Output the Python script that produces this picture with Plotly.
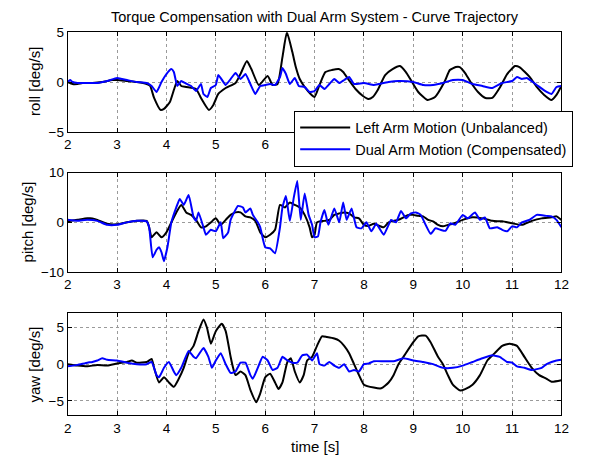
import plotly.graph_objects as go

# ---------------- data ----------------
roll_left_t = [2.0, 2.1, 2.2, 2.3, 2.5, 2.7, 2.9, 3.0, 3.2, 3.4, 3.6, 3.67, 3.75, 3.88, 3.95, 4.07, 4.15, 4.22, 4.3, 4.4, 4.6, 4.7, 4.86, 4.95, 5.05, 5.2, 5.4, 5.5, 5.63, 5.72, 5.87, 6.05, 6.15, 6.25, 6.35, 6.44, 6.55, 6.62, 6.7, 6.8, 6.92, 7.0, 7.1, 7.22, 7.35, 7.49, 7.58, 7.68, 7.83, 7.98, 8.09, 8.18, 8.28, 8.43, 8.58, 8.73, 8.85, 8.95, 9.1, 9.29, 9.44, 9.63, 9.74, 9.86, 9.94, 10.05, 10.16, 10.31, 10.46, 10.6, 10.76, 10.9, 11.06, 11.15, 11.36, 11.5, 11.65, 11.8, 11.9, 12.0]
roll_left = [0.0, -0.2, -0.2, -0.1, -0.1, 0.0, 0.2, 0.2, 0.1, 0.0, -0.2, -0.4, -1.6, -2.8, -2.7, -2.0, -0.8, 0.1, -0.4, -0.5, -0.7, -1.6, -2.8, -2.3, -1.2, -0.6, -0.1, 0.8, 2.1, 1.3, -0.3, 0.6, -0.3, -0.2, 2.5, 5.0, 3.0, 1.5, 0.3, -0.5, -1.2, -1.5, -0.3, 1.0, 1.2, 1.3, 1.0, 0.3, -0.7, -1.4, -1.7, -1.5, -0.8, 0.7, 1.3, 1.6, 1.0, 0.2, -1.0, -1.8, -1.5, 0.0, 1.2, 1.5, 1.5, 0.9, 0.0, -1.0, -1.6, -1.6, -0.5, 0.8, 1.6, 1.5, 0.5, -0.5, -1.3, -1.8, -1.3, -0.4]

roll_dual_t = [2.0, 2.05, 2.1, 2.2, 2.4, 2.6, 2.8, 3.0, 3.1, 3.2, 3.4, 3.6, 3.7, 3.8, 3.9, 4.0, 4.1, 4.15, 4.22, 4.3, 4.38, 4.5, 4.6, 4.7, 4.75, 4.83, 4.9, 5.0, 5.05, 5.1, 5.2, 5.3, 5.4, 5.5, 5.6, 5.7, 5.8, 5.9, 6.0, 6.1, 6.2, 6.3, 6.35, 6.42, 6.5, 6.6, 6.68, 6.8, 6.9, 7.0, 7.1, 7.2, 7.3, 7.4, 7.5, 7.6, 7.7, 7.8, 8.0, 8.2, 8.3, 8.5, 8.7, 9.0, 9.2, 9.4, 9.6, 9.8, 10.0, 10.2, 10.4, 10.6, 10.8, 11.0, 11.1, 11.2, 11.3, 11.5, 11.7, 11.8, 11.9, 12.0]
roll_dual = [0.0, 0.2, 0.0, -0.1, -0.1, -0.1, 0.1, 0.4, 0.3, 0.2, 0.0, -0.1, -0.4, -1.0, 0.0, 0.8, 1.3, 1.0, -0.4, 0.1, -0.1, -0.4, -0.9, -0.2, -1.2, -1.5, -0.6, -0.3, 0.7, 0.4, -0.3, 0.3, 0.9, 0.3, 0.8, -0.2, -1.2, -0.4, -0.3, -0.2, -0.3, 0.5, 1.4, 0.8, -0.2, 0.4, -0.4, -0.5, -1.0, -0.9, -0.3, -0.7, -0.2, 0.3, -0.1, 0.2, 0.5, -0.2, -0.1, -0.3, -0.2, 0.0, 0.1, 0.0, -0.3, -0.3, -0.1, 0.2, 0.2, -0.2, -0.4, -0.6, -0.1, 0.1, 0.5, 0.3, 0.4, -0.3, -1.0, -1.2, -0.5, -0.4]

pitch_left_t = [2.0, 2.2, 2.4, 2.5, 2.6, 2.8, 3.0, 3.2, 3.4, 3.6, 3.65, 3.7, 3.8, 3.9, 4.0, 4.1, 4.2, 4.3, 4.4, 4.5, 4.6, 4.7, 4.8, 4.9, 5.0, 5.1, 5.2, 5.3, 5.4, 5.5, 5.6, 5.7, 5.8, 5.9, 6.0, 6.1, 6.2, 6.3, 6.4, 6.5, 6.6, 6.7, 6.8, 6.9, 6.95, 7.0, 7.05, 7.2, 7.3, 7.4, 7.5, 7.6, 7.7, 7.8, 7.9, 8.0, 8.1, 8.2, 8.4, 8.5, 8.6, 8.7, 8.8, 8.9, 9.0, 9.1, 9.2, 9.3, 9.4, 9.5, 9.6, 9.7, 9.8, 10.0, 10.2, 10.4, 10.6, 10.8, 11.0, 11.2, 11.4, 11.6, 11.8, 11.9, 12.0]
pitch_left = [0.2, 0.5, 0.8, 0.8, 0.5, -0.3, -0.4, 0.0, 0.3, 0.3, -1.0, -3.0, -2.0, -3.0, -2.0, 0.0, 2.0, 3.5, 2.0, 1.5, 0.5, -1.0, -0.8, 0.0, 0.8, -0.5, 0.5, 1.5, 2.0, 2.0, 1.2, 1.0, 0.3, -2.0, -3.0, -2.5, -1.5, 3.5, 3.0, 4.0, 3.5, 3.0, 1.5, -1.0, -3.0, -2.5, 0.0, 0.3, 0.5, 1.5, 1.8, 2.0, 1.8, 1.0, 0.8, -0.5, -0.7, -0.3, -1.0, 0.0, 0.3, 0.5, 1.0, 1.5, 1.5, 1.3, 1.2, 0.5, 0.2, -0.5, -0.8, -0.5, -0.3, 0.5, 1.0, 0.8, 0.3, 0.2, -0.2, -0.5, 0.3, 0.8, 1.0, 1.2, 0.5]

pitch_dual_t = [2.0, 2.2, 2.4, 2.6, 2.8, 3.0, 3.2, 3.4, 3.6, 3.65, 3.72, 3.8, 3.85, 3.9, 3.95, 4.02, 4.1, 4.2, 4.27, 4.35, 4.45, 4.55, 4.6, 4.65, 4.75, 4.8, 4.9, 5.0, 5.1, 5.15, 5.25, 5.3, 5.45, 5.55, 5.6, 5.7, 5.75, 5.85, 5.9, 6.0, 6.1, 6.2, 6.3, 6.35, 6.42, 6.5, 6.58, 6.65, 6.72, 6.8, 6.88, 6.95, 7.0, 7.07, 7.12, 7.2, 7.28, 7.4, 7.5, 7.58, 7.65, 7.75, 7.85, 7.95, 8.05, 8.15, 8.25, 8.4, 8.5, 8.55, 8.65, 8.75, 8.85, 8.95, 9.05, 9.15, 9.25, 9.35, 9.45, 9.55, 9.65, 9.75, 9.85, 10.0, 10.1, 10.25, 10.35, 10.45, 10.55, 10.7, 10.8, 10.9, 11.0, 11.1, 11.2, 11.35, 11.5, 11.7, 11.8, 11.9, 12.0]
pitch_dual = [0.5, 0.3, 0.5, 0.3, -0.5, -0.5, 0.0, 0.3, 0.2, -1.0, -7.0, -5.5, -5.0, -6.0, -7.8, -5.0, 0.0, 3.0, 4.7, 3.5, 5.5, 1.0, 0.3, 2.0, -1.0, -2.5, -1.5, -1.8, 0.0, -3.2, -2.0, 0.5, 3.3, 3.0, 2.0, 2.8, 1.5, 0.0, -1.0, -5.0, -5.2, -6.2, -1.0, 3.0, 5.3, 0.3, 5.0, 8.3, 0.5, 5.8, 1.5, -0.5, -3.0, -2.8, 0.0, 2.5, -0.5, 2.8, 0.0, 4.0, 0.5, 2.8, -1.0, -1.2, 0.0, -1.8, -0.3, -2.5, -0.5, 0.5, 0.0, 2.3, 0.8, 1.8, 2.0, 1.5, -0.5, -2.3, -1.2, -1.5, -1.7, -0.2, -0.5, 1.5, 0.8, 2.0, 0.5, 1.0, -1.2, -1.0, -1.5, -1.8, -0.8, -1.0, 0.0, 0.5, 1.5, 1.3, 1.2, 0.5, -1.0]

yaw_left_t = [2.0, 2.2, 2.4, 2.6, 2.8, 3.0, 3.2, 3.3, 3.4, 3.6, 3.7, 3.75, 3.85, 3.95, 4.05, 4.15, 4.25, 4.35, 4.45, 4.55, 4.65, 4.75, 4.82, 4.9, 5.0, 5.12, 5.2, 5.3, 5.35, 5.4, 5.5, 5.6, 5.7, 5.82, 5.9, 6.0, 6.1, 6.2, 6.27, 6.35, 6.45, 6.52, 6.6, 6.7, 6.78, 6.85, 6.95, 7.05, 7.15, 7.25, 7.4, 7.5, 7.6, 7.7, 7.8, 7.9, 8.0, 8.2, 8.35, 8.5, 8.6, 8.7, 8.8, 9.0, 9.1, 9.25, 9.35, 9.5, 9.6, 9.7, 9.8, 9.95, 10.05, 10.2, 10.35, 10.5, 10.65, 10.8, 10.95, 11.1, 11.25, 11.4, 11.55, 11.7, 11.8, 12.0]
yaw_left = [0.0, -0.2, -0.3, -0.1, -0.2, 0.1, 0.3, 0.5, 0.2, 0.3, 0.7, -0.5, -2.5, -1.8, -2.5, -3.1, -2.0, -0.5, 1.5, 2.5, 4.5, 6.1, 5.0, 2.8, 4.5, 5.5, 4.5, 1.0, -0.5, -1.5, -1.0, -1.5, -3.5, -5.2, -4.0, -1.8, -1.3, -2.5, -3.4, -2.5, 0.3, 0.8, -1.0, -2.5, -1.5, 0.5, 1.0, 2.5, 3.8, 3.7, 3.5, 3.2, 2.5, 1.5, 0.0, -1.5, -2.8, -3.2, -3.3, -2.5, -1.5, 0.0, 1.0, 3.0, 3.8, 3.9, 3.0, 1.0, 0.0, -1.5, -2.8, -3.6, -3.4, -2.8, -1.5, 0.5, 1.5, 2.5, 2.8, 2.5, 1.0, -0.5, -1.5, -2.0, -2.4, -2.2]

yaw_dual_t = [2.0, 2.2, 2.4, 2.5, 2.6, 2.7, 2.8, 3.0, 3.2, 3.4, 3.6, 3.7, 3.8, 3.85, 3.95, 4.05, 4.15, 4.2, 4.3, 4.45, 4.55, 4.6, 4.75, 4.85, 4.92, 5.0, 5.1, 5.2, 5.3, 5.4, 5.5, 5.6, 5.7, 5.75, 5.85, 5.95, 6.05, 6.15, 6.25, 6.35, 6.45, 6.55, 6.65, 6.75, 6.85, 6.95, 7.05, 7.1, 7.2, 7.3, 7.4, 7.5, 7.6, 7.7, 7.8, 7.9, 8.0, 8.1, 8.2, 8.4, 8.6, 8.8, 9.0, 9.2, 9.4, 9.6, 9.8, 10.0, 10.2, 10.4, 10.6, 10.75, 10.9, 11.0, 11.1, 11.25, 11.4, 11.6, 11.7, 11.8, 11.9, 12.0]
yaw_dual = [-0.3, -0.1, 0.2, 0.3, 0.5, 0.8, 0.6, 0.5, 0.2, 0.0, 0.0, 0.3, -1.5, -1.8, -0.5, 0.3, -1.0, -1.5, -0.5, 1.8, 1.0, 0.8, 2.2, 1.0, -0.5, 0.5, 1.5, 0.0, -1.2, -1.0, 0.2, 0.2, -1.5, -2.0, -0.5, 1.0, 0.5, -0.8, -0.5, 1.0, 0.5, 0.2, 0.2, 1.2, 1.3, 0.5, 1.5, 0.0, -0.2, 0.3, -0.2, -0.5, 0.0, -1.0, -0.8, -1.0, 0.0, 0.1, 0.4, 0.4, 0.4, 0.8, 0.5, 0.3, 0.0, -0.5, -0.5, -0.2, 0.3, 0.8, 1.2, 1.0, 0.3, 0.2, -0.3, -0.5, -0.8, -0.5, 0.0, 0.3, 0.5, 0.6]

x_ticks = [2, 3, 4, 5, 6, 7, 8, 9, 10, 11, 12]
roll_ticks = [-5, 0, 5]
pitch_ticks = [-10, 0, 10]
yaw_ticks = [-5, 0, 5]

title_text = "Torque Compensation with Dual Arm System - Curve Trajectory"
left_name = "Left Arm Motion (Unbalanced)"
dual_name = "Dual Arm Motion (Compensated)"

# ---------------- figure ----------------
W, H = 590, 467
FONT = "Liberation Sans, Arial, sans-serif"
BLACK = "#000000"
BLUE = "#0000FF"
TICK_SIZE = 13.5
LABEL_SIZE = 15

fig = go.Figure()

panels = [
    ("", "y", roll_left_t, roll_left, roll_dual_t, roll_dual),
    ("2", "y2", pitch_left_t, pitch_left, pitch_dual_t, pitch_dual),
    ("3", "y3", yaw_left_t, yaw_left, yaw_dual_t, yaw_dual),
]
for i, (sfx, yref, lt, lv, dt, dv) in enumerate(panels):
    fig.add_trace(go.Scatter(x=lt, y=lv, mode="lines", name=left_name,
                             line=dict(color=BLACK, width=2, shape="spline", smoothing=0.5),
                             xaxis="x" + sfx, yaxis=yref, showlegend=(i == 0)))
    fig.add_trace(go.Scatter(x=dt, y=dv, mode="lines", name=dual_name,
                             line=dict(color=BLUE, width=2, shape="spline", smoothing=0.4),
                             xaxis="x" + sfx, yaxis=yref, showlegend=(i == 0)))

xd = [65 / W, 569 / W]
def ydom(top, bot):
    return [1 - bot / H, 1 - top / H]

GRID = "#9a9a9a"
common_x = dict(range=[2, 12], tickvals=x_ticks, ticks="inside", ticklen=4,
                showline=True, linecolor=BLACK, linewidth=1, mirror="ticks",
                showgrid=True, gridcolor=GRID, griddash="dot", gridwidth=1,
                zeroline=False, tickfont=dict(family=FONT, size=TICK_SIZE, color="#000"),
                domain=xd, tickcolor=BLACK)
common_y = dict(ticks="inside", ticklen=4, showline=True, linecolor=BLACK,
                linewidth=1, mirror="ticks", showgrid=True, gridcolor=GRID,
                griddash="dot", gridwidth=1, zeroline=False,
                tickfont=dict(family=FONT, size=TICK_SIZE, color="#000"), tickcolor=BLACK)

fig.update_layout(
    width=W, height=H,
    margin=dict(l=0, r=0, t=0, b=0),
    paper_bgcolor="white", plot_bgcolor="white",
    font=dict(family=FONT, size=13, color="#000"),
    xaxis=dict(common_x, anchor="y"),
    xaxis2=dict(common_x, anchor="y2"),
    xaxis3=dict(common_x, anchor="y3"),
    yaxis=dict(common_y, range=[-5, 5], tickvals=roll_ticks, domain=ydom(26, 129), anchor="x"),
    yaxis2=dict(common_y, range=[-10, 10], tickvals=pitch_ticks, domain=ydom(171, 274), anchor="x2"),
    yaxis3=dict(common_y, range=[-7, 7], tickvals=yaw_ticks, domain=ydom(316, 422), anchor="x3"),
    legend=dict(x=581 / W, xanchor="right", y=1 - 107 / H, yanchor="top",
                bgcolor="white", bordercolor=BLACK, borderwidth=1,
                font=dict(family=FONT, size=14.5, color="#000"),
                tracegroupgap=0, itemwidth=50),
    showlegend=True,
)

annots = [
    dict(text=title_text, x=317 / W, y=1 - 10 / H, size=14.5, angle=0),
    dict(text="time [s]", x=317 / W, y=1 - 454 / H, size=LABEL_SIZE, angle=0),
    dict(text="roll [deg/s]", x=31 / W, y=1 - 77 / H, size=LABEL_SIZE, angle=-90),
    dict(text="pitch [deg/s]", x=24 / W, y=1 - 222 / H, size=LABEL_SIZE, angle=-90),
    dict(text="yaw [deg/s]", x=31 / W, y=1 - 369 / H, size=LABEL_SIZE, angle=-90),
]
for a in annots:
    fig.add_annotation(xref="paper", yref="paper", xanchor="center", yanchor="middle",
                       showarrow=False, text=a["text"], x=a["x"], y=a["y"],
                       textangle=a["angle"],
                       font=dict(family=FONT, color="#000", size=a["size"]))

fig.write_html("out.html")
